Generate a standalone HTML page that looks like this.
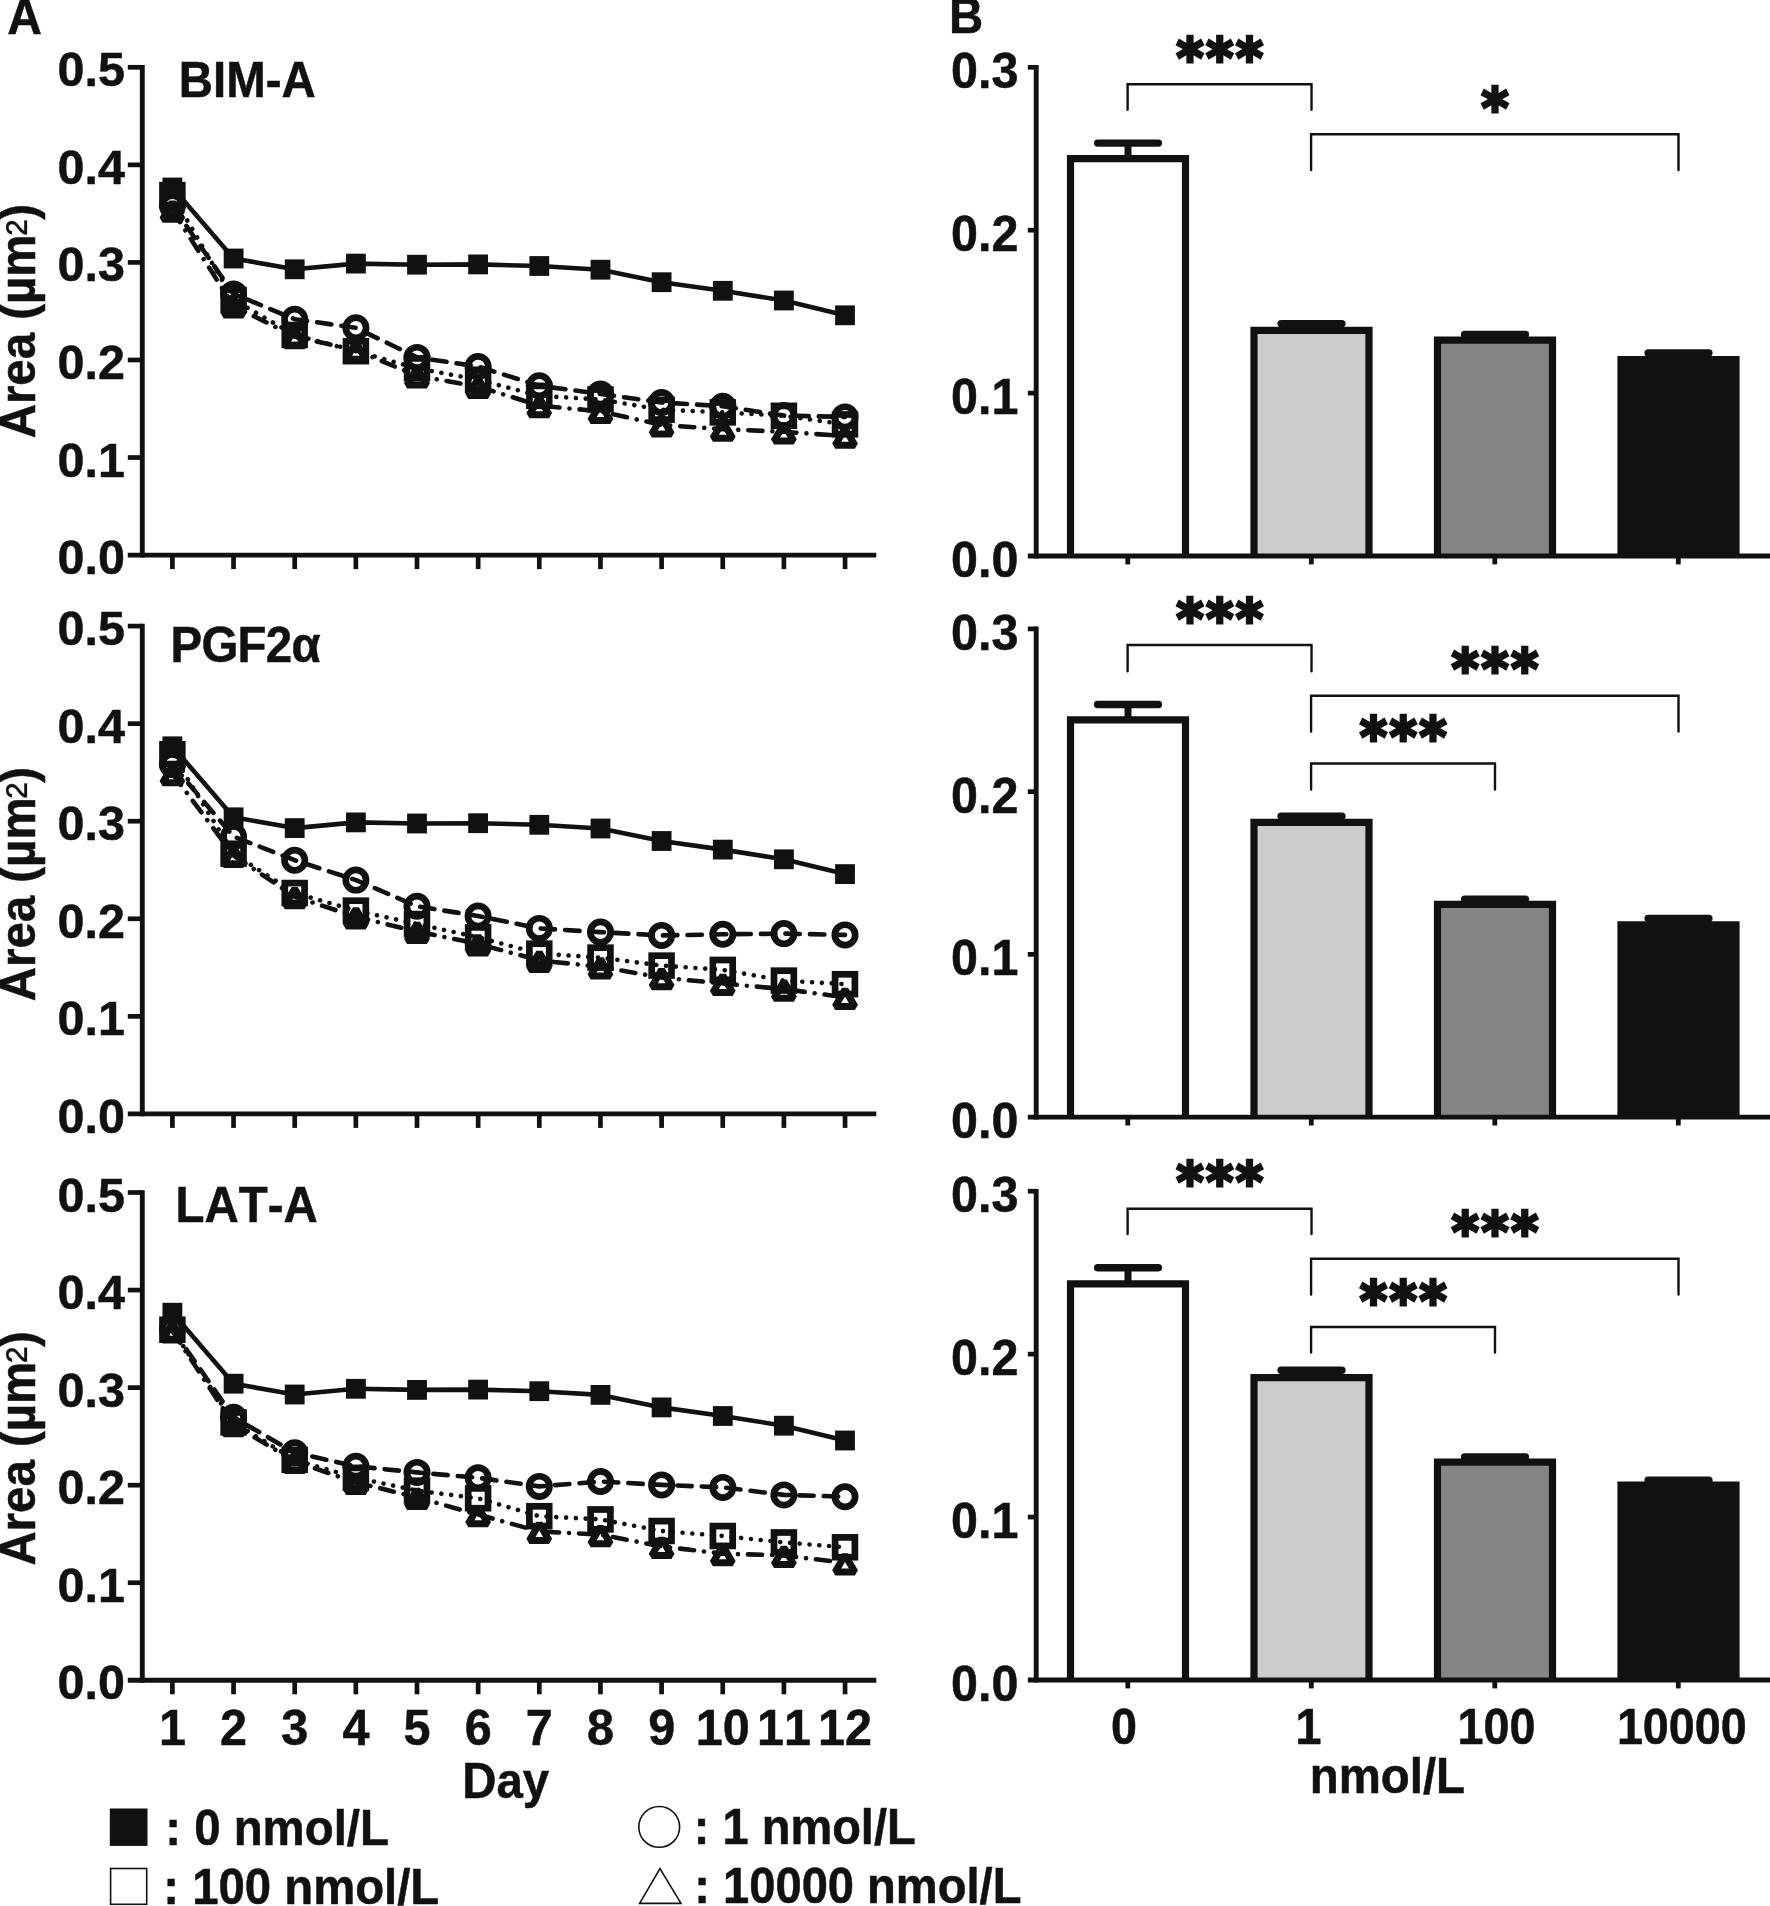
<!DOCTYPE html>
<html lang="en">
<head>
<meta charset="utf-8">
<title>Figure: Area vs Day (A) and dose response (B)</title>
<style>
html,body{margin:0;padding:0;background:#ffffff;}
body{width:1770px;height:1906px;overflow:hidden;font-family:'Liberation Sans', sans-serif;}
svg{display:block;}
text{font-kerning:none;}
</style>
</head>
<body>
<svg width="1770" height="1906" viewBox="0 0 1770 1906">
<rect x="0" y="0" width="1770" height="1906" fill="#ffffff"/>
<g id="panelA1" stroke="#111111" fill="#111111">
<line x1="142.30" y1="65.00" x2="142.30" y2="557.50" stroke-width="4.9" stroke-linecap="butt"/>
<line x1="127.80" y1="555.10" x2="876.30" y2="555.10" stroke-width="4.9" stroke-linecap="butt"/>
<line x1="127.80" y1="457.54" x2="142.30" y2="457.54" stroke-width="4.7" stroke-linecap="butt"/>
<line x1="127.80" y1="359.98" x2="142.30" y2="359.98" stroke-width="4.7" stroke-linecap="butt"/>
<line x1="127.80" y1="262.42" x2="142.30" y2="262.42" stroke-width="4.7" stroke-linecap="butt"/>
<line x1="127.80" y1="164.86" x2="142.30" y2="164.86" stroke-width="4.7" stroke-linecap="butt"/>
<line x1="127.80" y1="67.30" x2="142.30" y2="67.30" stroke-width="4.7" stroke-linecap="butt"/>
<line x1="172.40" y1="555.10" x2="172.40" y2="569.10" stroke-width="4.7" stroke-linecap="butt"/>
<line x1="233.55" y1="555.10" x2="233.55" y2="569.10" stroke-width="4.7" stroke-linecap="butt"/>
<line x1="294.70" y1="555.10" x2="294.70" y2="569.10" stroke-width="4.7" stroke-linecap="butt"/>
<line x1="355.85" y1="555.10" x2="355.85" y2="569.10" stroke-width="4.7" stroke-linecap="butt"/>
<line x1="417.00" y1="555.10" x2="417.00" y2="569.10" stroke-width="4.7" stroke-linecap="butt"/>
<line x1="478.15" y1="555.10" x2="478.15" y2="569.10" stroke-width="4.7" stroke-linecap="butt"/>
<line x1="539.30" y1="555.10" x2="539.30" y2="569.10" stroke-width="4.7" stroke-linecap="butt"/>
<line x1="600.45" y1="555.10" x2="600.45" y2="569.10" stroke-width="4.7" stroke-linecap="butt"/>
<line x1="661.60" y1="555.10" x2="661.60" y2="569.10" stroke-width="4.7" stroke-linecap="butt"/>
<line x1="722.75" y1="555.10" x2="722.75" y2="569.10" stroke-width="4.7" stroke-linecap="butt"/>
<line x1="783.90" y1="555.10" x2="783.90" y2="569.10" stroke-width="4.7" stroke-linecap="butt"/>
<line x1="845.05" y1="555.10" x2="845.05" y2="569.10" stroke-width="4.7" stroke-linecap="butt"/>
</g>
<g fill="#111111" stroke="#111111" stroke-width="0.5" font-family="'Liberation Sans', sans-serif">
<text transform="translate(124.90 574.10) scale(1 1.01)" font-size="48.5" font-weight="bold" text-anchor="end">0.0</text>
<text transform="translate(124.90 476.54) scale(1 1.01)" font-size="48.5" font-weight="bold" text-anchor="end">0.1</text>
<text transform="translate(124.90 378.98) scale(1 1.01)" font-size="48.5" font-weight="bold" text-anchor="end">0.2</text>
<text transform="translate(124.90 281.42) scale(1 1.01)" font-size="48.5" font-weight="bold" text-anchor="end">0.3</text>
<text transform="translate(124.90 183.86) scale(1 1.01)" font-size="48.5" font-weight="bold" text-anchor="end">0.4</text>
<text transform="translate(124.90 86.30) scale(1 1.01)" font-size="48.5" font-weight="bold" text-anchor="end">0.5</text>
<text transform="translate(178.80 96.50) scale(1 1.04)" font-size="47.4" font-weight="bold" text-anchor="start">BIM-A</text>
<text transform="translate(35.0 438.3) rotate(-90) scale(1 1.04)" font-size="47.4" font-weight="bold">Area (µm<tspan font-weight="normal" stroke-width="0.2" font-size="47.4" dx="-1" dy="5.8">²</tspan><tspan dy="-5.8">)</tspan></text>
</g>
<g id="dataA1" stroke="#111111" fill="none">
<polyline points="172.4,187.5 233.6,258.5 294.7,269.3 355.9,263.6 417.0,264.7 478.1,264.4 539.3,266.0 600.5,269.7 661.6,282.2 722.8,290.8 783.9,300.5 845.0,315.3" fill="none" stroke-width="4.6" stroke-linecap="round" stroke-linejoin="round"/>
<polyline points="172.4,205.8 233.6,293.9 294.7,319.2 355.9,327.8 417.0,357.4 478.1,366.5 539.3,385.8 600.5,393.9 661.6,402.5 722.8,406.2 783.9,415.6 845.0,416.9" fill="none" stroke-width="4.6" stroke-linecap="round" stroke-linejoin="round" stroke-dasharray="14.4 10.1"/>
<polyline points="172.4,195.1 233.6,299.9 294.7,335.0 355.9,351.2 417.0,368.3 478.1,379.7 539.3,395.8 600.5,399.5 661.6,409.7 722.8,412.4 783.9,415.8 845.0,424.4" fill="none" stroke-width="4.6" stroke-linecap="round" stroke-linejoin="round" stroke-dasharray="0.01 9.8"/>
<polyline points="172.4,210.1 233.6,306.0 294.7,336.6 355.9,350.2 417.0,375.8 478.1,386.5 539.3,405.6 600.5,411.4 661.6,424.9 722.8,429.2 783.9,431.8 845.0,436.1" fill="none" stroke-width="4.6" stroke-linecap="round" stroke-linejoin="round" stroke-dasharray="14.1 10 0.01 10"/>
<rect x="162.5" y="177.6" width="19.8" height="19.8" fill="#111111" stroke="none"/>
<rect x="223.7" y="248.6" width="19.8" height="19.8" fill="#111111" stroke="none"/>
<rect x="284.8" y="259.4" width="19.8" height="19.8" fill="#111111" stroke="none"/>
<rect x="346.0" y="253.7" width="19.8" height="19.8" fill="#111111" stroke="none"/>
<rect x="407.1" y="254.8" width="19.8" height="19.8" fill="#111111" stroke="none"/>
<rect x="468.2" y="254.5" width="19.8" height="19.8" fill="#111111" stroke="none"/>
<rect x="529.4" y="256.1" width="19.8" height="19.8" fill="#111111" stroke="none"/>
<rect x="590.6" y="259.8" width="19.8" height="19.8" fill="#111111" stroke="none"/>
<rect x="651.7" y="272.3" width="19.8" height="19.8" fill="#111111" stroke="none"/>
<rect x="712.9" y="280.9" width="19.8" height="19.8" fill="#111111" stroke="none"/>
<rect x="774.0" y="290.6" width="19.8" height="19.8" fill="#111111" stroke="none"/>
<rect x="835.1" y="305.4" width="19.8" height="19.8" fill="#111111" stroke="none"/>
<circle cx="172.4" cy="205.8" r="10.15" stroke-width="6.7"/>
<circle cx="233.6" cy="293.9" r="10.15" stroke-width="6.7"/>
<circle cx="294.7" cy="319.2" r="10.15" stroke-width="6.7"/>
<circle cx="355.9" cy="327.8" r="10.15" stroke-width="6.7"/>
<circle cx="417.0" cy="357.4" r="10.15" stroke-width="6.7"/>
<circle cx="478.1" cy="366.5" r="10.15" stroke-width="6.7"/>
<circle cx="539.3" cy="385.8" r="10.15" stroke-width="6.7"/>
<circle cx="600.5" cy="393.9" r="10.15" stroke-width="6.7"/>
<circle cx="661.6" cy="402.5" r="10.15" stroke-width="6.7"/>
<circle cx="722.8" cy="406.2" r="10.15" stroke-width="6.7"/>
<circle cx="783.9" cy="415.6" r="10.15" stroke-width="6.7"/>
<circle cx="845.0" cy="416.9" r="10.15" stroke-width="6.7"/>
<rect x="162.5" y="185.2" width="19.8" height="19.8" stroke-width="6.7"/>
<rect x="223.7" y="290.0" width="19.8" height="19.8" stroke-width="6.7"/>
<rect x="284.8" y="325.1" width="19.8" height="19.8" stroke-width="6.7"/>
<rect x="346.0" y="341.3" width="19.8" height="19.8" stroke-width="6.7"/>
<rect x="407.1" y="358.4" width="19.8" height="19.8" stroke-width="6.7"/>
<rect x="468.2" y="369.8" width="19.8" height="19.8" stroke-width="6.7"/>
<rect x="529.4" y="385.9" width="19.8" height="19.8" stroke-width="6.7"/>
<rect x="590.6" y="389.6" width="19.8" height="19.8" stroke-width="6.7"/>
<rect x="651.7" y="399.8" width="19.8" height="19.8" stroke-width="6.7"/>
<rect x="712.9" y="402.5" width="19.8" height="19.8" stroke-width="6.7"/>
<rect x="774.0" y="405.9" width="19.8" height="19.8" stroke-width="6.7"/>
<rect x="835.1" y="414.5" width="19.8" height="19.8" stroke-width="6.7"/>
<path d="M172.4 202.2 L182.2 219.2 L162.6 219.2 Z" stroke-width="7.0" stroke-linejoin="bevel"/>
<path d="M233.6 298.1 L243.4 315.1 L223.7 315.1 Z" stroke-width="7.0" stroke-linejoin="bevel"/>
<path d="M294.7 328.7 L304.6 345.7 L284.8 345.7 Z" stroke-width="7.0" stroke-linejoin="bevel"/>
<path d="M355.9 342.3 L365.7 359.3 L346.0 359.3 Z" stroke-width="7.0" stroke-linejoin="bevel"/>
<path d="M417.0 367.9 L426.9 384.9 L407.1 384.9 Z" stroke-width="7.0" stroke-linejoin="bevel"/>
<path d="M478.1 378.6 L488.0 395.6 L468.3 395.6 Z" stroke-width="7.0" stroke-linejoin="bevel"/>
<path d="M539.3 397.7 L549.1 414.7 L529.4 414.7 Z" stroke-width="7.0" stroke-linejoin="bevel"/>
<path d="M600.5 403.5 L610.3 420.5 L590.6 420.5 Z" stroke-width="7.0" stroke-linejoin="bevel"/>
<path d="M661.6 417.0 L671.5 434.0 L651.8 434.0 Z" stroke-width="7.0" stroke-linejoin="bevel"/>
<path d="M722.8 421.3 L732.6 438.3 L712.9 438.3 Z" stroke-width="7.0" stroke-linejoin="bevel"/>
<path d="M783.9 423.9 L793.8 440.9 L774.0 440.9 Z" stroke-width="7.0" stroke-linejoin="bevel"/>
<path d="M845.0 428.2 L854.9 445.2 L835.2 445.2 Z" stroke-width="7.0" stroke-linejoin="bevel"/>
</g>
<g id="panelA2" stroke="#111111" fill="#111111">
<line x1="142.30" y1="623.80" x2="142.30" y2="1116.30" stroke-width="4.9" stroke-linecap="butt"/>
<line x1="127.80" y1="1113.90" x2="876.30" y2="1113.90" stroke-width="4.9" stroke-linecap="butt"/>
<line x1="127.80" y1="1016.34" x2="142.30" y2="1016.34" stroke-width="4.7" stroke-linecap="butt"/>
<line x1="127.80" y1="918.78" x2="142.30" y2="918.78" stroke-width="4.7" stroke-linecap="butt"/>
<line x1="127.80" y1="821.22" x2="142.30" y2="821.22" stroke-width="4.7" stroke-linecap="butt"/>
<line x1="127.80" y1="723.66" x2="142.30" y2="723.66" stroke-width="4.7" stroke-linecap="butt"/>
<line x1="127.80" y1="626.10" x2="142.30" y2="626.10" stroke-width="4.7" stroke-linecap="butt"/>
<line x1="172.40" y1="1113.90" x2="172.40" y2="1127.90" stroke-width="4.7" stroke-linecap="butt"/>
<line x1="233.55" y1="1113.90" x2="233.55" y2="1127.90" stroke-width="4.7" stroke-linecap="butt"/>
<line x1="294.70" y1="1113.90" x2="294.70" y2="1127.90" stroke-width="4.7" stroke-linecap="butt"/>
<line x1="355.85" y1="1113.90" x2="355.85" y2="1127.90" stroke-width="4.7" stroke-linecap="butt"/>
<line x1="417.00" y1="1113.90" x2="417.00" y2="1127.90" stroke-width="4.7" stroke-linecap="butt"/>
<line x1="478.15" y1="1113.90" x2="478.15" y2="1127.90" stroke-width="4.7" stroke-linecap="butt"/>
<line x1="539.30" y1="1113.90" x2="539.30" y2="1127.90" stroke-width="4.7" stroke-linecap="butt"/>
<line x1="600.45" y1="1113.90" x2="600.45" y2="1127.90" stroke-width="4.7" stroke-linecap="butt"/>
<line x1="661.60" y1="1113.90" x2="661.60" y2="1127.90" stroke-width="4.7" stroke-linecap="butt"/>
<line x1="722.75" y1="1113.90" x2="722.75" y2="1127.90" stroke-width="4.7" stroke-linecap="butt"/>
<line x1="783.90" y1="1113.90" x2="783.90" y2="1127.90" stroke-width="4.7" stroke-linecap="butt"/>
<line x1="845.05" y1="1113.90" x2="845.05" y2="1127.90" stroke-width="4.7" stroke-linecap="butt"/>
</g>
<g fill="#111111" stroke="#111111" stroke-width="0.5" font-family="'Liberation Sans', sans-serif">
<text transform="translate(124.90 1132.90) scale(1 1.01)" font-size="48.5" font-weight="bold" text-anchor="end">0.0</text>
<text transform="translate(124.90 1035.34) scale(1 1.01)" font-size="48.5" font-weight="bold" text-anchor="end">0.1</text>
<text transform="translate(124.90 937.78) scale(1 1.01)" font-size="48.5" font-weight="bold" text-anchor="end">0.2</text>
<text transform="translate(124.90 840.22) scale(1 1.01)" font-size="48.5" font-weight="bold" text-anchor="end">0.3</text>
<text transform="translate(124.90 742.66) scale(1 1.01)" font-size="48.5" font-weight="bold" text-anchor="end">0.4</text>
<text transform="translate(124.90 645.10) scale(1 1.01)" font-size="48.5" font-weight="bold" text-anchor="end">0.5</text>
<text transform="translate(170.50 662.10) scale(1 1.04)" font-size="47.4" font-weight="bold" text-anchor="start" letter-spacing="-0.7">PGF2α</text>
<text transform="translate(35.0 1001.2) rotate(-90) scale(1 1.04)" font-size="47.4" font-weight="bold">Area (µm<tspan font-weight="normal" stroke-width="0.2" font-size="47.4" dx="-1" dy="5.8">²</tspan><tspan dy="-5.8">)</tspan></text>
</g>
<g id="dataA2" stroke="#111111" fill="none">
<polyline points="172.4,746.3 233.6,817.3 294.7,828.1 355.9,822.4 417.0,823.5 478.1,823.2 539.3,824.8 600.5,828.5 661.6,841.0 722.8,849.6 783.9,859.3 845.0,874.1" fill="none" stroke-width="4.6" stroke-linecap="round" stroke-linejoin="round"/>
<polyline points="172.4,764.6 233.6,836.6 294.7,860.2 355.9,880.1 417.0,906.3 478.1,916.0 539.3,928.4 600.5,932.1 661.6,935.4 722.8,934.3 783.9,933.6 845.0,934.9" fill="none" stroke-width="4.6" stroke-linecap="round" stroke-linejoin="round" stroke-dasharray="14.4 10.1"/>
<polyline points="172.4,754.2 233.6,853.7 294.7,893.0 355.9,910.6 417.0,924.0 478.1,937.3 539.3,953.6 600.5,957.6 661.6,965.6 722.8,969.9 783.9,980.6 845.0,984.2" fill="none" stroke-width="4.6" stroke-linecap="round" stroke-linejoin="round" stroke-dasharray="0.01 9.8"/>
<polyline points="172.4,773.6 233.6,855.4 294.7,896.6 355.9,916.8 417.0,931.5 478.1,943.9 539.3,960.4 600.5,966.8 661.6,977.6 722.8,983.5 783.9,989.1 845.0,997.3" fill="none" stroke-width="4.6" stroke-linecap="round" stroke-linejoin="round" stroke-dasharray="14.1 10 0.01 10"/>
<rect x="162.5" y="736.4" width="19.8" height="19.8" fill="#111111" stroke="none"/>
<rect x="223.7" y="807.4" width="19.8" height="19.8" fill="#111111" stroke="none"/>
<rect x="284.8" y="818.2" width="19.8" height="19.8" fill="#111111" stroke="none"/>
<rect x="346.0" y="812.5" width="19.8" height="19.8" fill="#111111" stroke="none"/>
<rect x="407.1" y="813.6" width="19.8" height="19.8" fill="#111111" stroke="none"/>
<rect x="468.2" y="813.3" width="19.8" height="19.8" fill="#111111" stroke="none"/>
<rect x="529.4" y="814.9" width="19.8" height="19.8" fill="#111111" stroke="none"/>
<rect x="590.6" y="818.6" width="19.8" height="19.8" fill="#111111" stroke="none"/>
<rect x="651.7" y="831.1" width="19.8" height="19.8" fill="#111111" stroke="none"/>
<rect x="712.9" y="839.7" width="19.8" height="19.8" fill="#111111" stroke="none"/>
<rect x="774.0" y="849.4" width="19.8" height="19.8" fill="#111111" stroke="none"/>
<rect x="835.1" y="864.2" width="19.8" height="19.8" fill="#111111" stroke="none"/>
<circle cx="172.4" cy="764.6" r="10.15" stroke-width="6.7"/>
<circle cx="233.6" cy="836.6" r="10.15" stroke-width="6.7"/>
<circle cx="294.7" cy="860.2" r="10.15" stroke-width="6.7"/>
<circle cx="355.9" cy="880.1" r="10.15" stroke-width="6.7"/>
<circle cx="417.0" cy="906.3" r="10.15" stroke-width="6.7"/>
<circle cx="478.1" cy="916.0" r="10.15" stroke-width="6.7"/>
<circle cx="539.3" cy="928.4" r="10.15" stroke-width="6.7"/>
<circle cx="600.5" cy="932.1" r="10.15" stroke-width="6.7"/>
<circle cx="661.6" cy="935.4" r="10.15" stroke-width="6.7"/>
<circle cx="722.8" cy="934.3" r="10.15" stroke-width="6.7"/>
<circle cx="783.9" cy="933.6" r="10.15" stroke-width="6.7"/>
<circle cx="845.0" cy="934.9" r="10.15" stroke-width="6.7"/>
<rect x="162.5" y="744.3" width="19.8" height="19.8" stroke-width="6.7"/>
<rect x="223.7" y="843.8" width="19.8" height="19.8" stroke-width="6.7"/>
<rect x="284.8" y="883.1" width="19.8" height="19.8" stroke-width="6.7"/>
<rect x="346.0" y="900.7" width="19.8" height="19.8" stroke-width="6.7"/>
<rect x="407.1" y="914.1" width="19.8" height="19.8" stroke-width="6.7"/>
<rect x="468.2" y="927.4" width="19.8" height="19.8" stroke-width="6.7"/>
<rect x="529.4" y="943.7" width="19.8" height="19.8" stroke-width="6.7"/>
<rect x="590.6" y="947.7" width="19.8" height="19.8" stroke-width="6.7"/>
<rect x="651.7" y="955.7" width="19.8" height="19.8" stroke-width="6.7"/>
<rect x="712.9" y="960.0" width="19.8" height="19.8" stroke-width="6.7"/>
<rect x="774.0" y="970.7" width="19.8" height="19.8" stroke-width="6.7"/>
<rect x="835.1" y="974.3" width="19.8" height="19.8" stroke-width="6.7"/>
<path d="M172.4 765.7 L182.2 782.7 L162.6 782.7 Z" stroke-width="7.0" stroke-linejoin="bevel"/>
<path d="M233.6 847.5 L243.4 864.5 L223.7 864.5 Z" stroke-width="7.0" stroke-linejoin="bevel"/>
<path d="M294.7 888.7 L304.6 905.7 L284.8 905.7 Z" stroke-width="7.0" stroke-linejoin="bevel"/>
<path d="M355.9 908.9 L365.7 925.9 L346.0 925.9 Z" stroke-width="7.0" stroke-linejoin="bevel"/>
<path d="M417.0 923.6 L426.9 940.6 L407.1 940.6 Z" stroke-width="7.0" stroke-linejoin="bevel"/>
<path d="M478.1 936.0 L488.0 953.0 L468.3 953.0 Z" stroke-width="7.0" stroke-linejoin="bevel"/>
<path d="M539.3 952.5 L549.1 969.5 L529.4 969.5 Z" stroke-width="7.0" stroke-linejoin="bevel"/>
<path d="M600.5 958.9 L610.3 975.9 L590.6 975.9 Z" stroke-width="7.0" stroke-linejoin="bevel"/>
<path d="M661.6 969.7 L671.5 986.7 L651.8 986.7 Z" stroke-width="7.0" stroke-linejoin="bevel"/>
<path d="M722.8 975.6 L732.6 992.6 L712.9 992.6 Z" stroke-width="7.0" stroke-linejoin="bevel"/>
<path d="M783.9 981.2 L793.8 998.2 L774.0 998.2 Z" stroke-width="7.0" stroke-linejoin="bevel"/>
<path d="M845.0 989.4 L854.9 1006.4 L835.2 1006.4 Z" stroke-width="7.0" stroke-linejoin="bevel"/>
</g>
<g id="panelA3" stroke="#111111" fill="#111111">
<line x1="142.30" y1="1190.20" x2="142.30" y2="1682.70" stroke-width="4.9" stroke-linecap="butt"/>
<line x1="127.80" y1="1680.30" x2="876.30" y2="1680.30" stroke-width="4.9" stroke-linecap="butt"/>
<line x1="127.80" y1="1582.74" x2="142.30" y2="1582.74" stroke-width="4.7" stroke-linecap="butt"/>
<line x1="127.80" y1="1485.18" x2="142.30" y2="1485.18" stroke-width="4.7" stroke-linecap="butt"/>
<line x1="127.80" y1="1387.62" x2="142.30" y2="1387.62" stroke-width="4.7" stroke-linecap="butt"/>
<line x1="127.80" y1="1290.06" x2="142.30" y2="1290.06" stroke-width="4.7" stroke-linecap="butt"/>
<line x1="127.80" y1="1192.50" x2="142.30" y2="1192.50" stroke-width="4.7" stroke-linecap="butt"/>
<line x1="172.40" y1="1680.30" x2="172.40" y2="1694.30" stroke-width="4.7" stroke-linecap="butt"/>
<line x1="233.55" y1="1680.30" x2="233.55" y2="1694.30" stroke-width="4.7" stroke-linecap="butt"/>
<line x1="294.70" y1="1680.30" x2="294.70" y2="1694.30" stroke-width="4.7" stroke-linecap="butt"/>
<line x1="355.85" y1="1680.30" x2="355.85" y2="1694.30" stroke-width="4.7" stroke-linecap="butt"/>
<line x1="417.00" y1="1680.30" x2="417.00" y2="1694.30" stroke-width="4.7" stroke-linecap="butt"/>
<line x1="478.15" y1="1680.30" x2="478.15" y2="1694.30" stroke-width="4.7" stroke-linecap="butt"/>
<line x1="539.30" y1="1680.30" x2="539.30" y2="1694.30" stroke-width="4.7" stroke-linecap="butt"/>
<line x1="600.45" y1="1680.30" x2="600.45" y2="1694.30" stroke-width="4.7" stroke-linecap="butt"/>
<line x1="661.60" y1="1680.30" x2="661.60" y2="1694.30" stroke-width="4.7" stroke-linecap="butt"/>
<line x1="722.75" y1="1680.30" x2="722.75" y2="1694.30" stroke-width="4.7" stroke-linecap="butt"/>
<line x1="783.90" y1="1680.30" x2="783.90" y2="1694.30" stroke-width="4.7" stroke-linecap="butt"/>
<line x1="845.05" y1="1680.30" x2="845.05" y2="1694.30" stroke-width="4.7" stroke-linecap="butt"/>
</g>
<g fill="#111111" stroke="#111111" stroke-width="0.5" font-family="'Liberation Sans', sans-serif">
<text transform="translate(124.90 1699.30) scale(1 1.01)" font-size="48.5" font-weight="bold" text-anchor="end">0.0</text>
<text transform="translate(124.90 1601.74) scale(1 1.01)" font-size="48.5" font-weight="bold" text-anchor="end">0.1</text>
<text transform="translate(124.90 1504.18) scale(1 1.01)" font-size="48.5" font-weight="bold" text-anchor="end">0.2</text>
<text transform="translate(124.90 1406.62) scale(1 1.01)" font-size="48.5" font-weight="bold" text-anchor="end">0.3</text>
<text transform="translate(124.90 1309.06) scale(1 1.01)" font-size="48.5" font-weight="bold" text-anchor="end">0.4</text>
<text transform="translate(124.90 1211.50) scale(1 1.01)" font-size="48.5" font-weight="bold" text-anchor="end">0.5</text>
<text transform="translate(175.60 1221.90) scale(1 1.04)" font-size="47.4" font-weight="bold" text-anchor="start">LAT-A</text>
<text transform="translate(35.0 1565.6) rotate(-90) scale(1 1.04)" font-size="47.4" font-weight="bold">Area (µm<tspan font-weight="normal" stroke-width="0.2" font-size="47.4" dx="-1" dy="5.8">²</tspan><tspan dy="-5.8">)</tspan></text>
</g>
<g id="dataA3" stroke="#111111" fill="none">
<polyline points="172.4,1312.7 233.6,1383.7 294.7,1394.5 355.9,1388.8 417.0,1389.9 478.1,1389.6 539.3,1391.2 600.5,1394.9 661.6,1407.4 722.8,1416.0 783.9,1425.7 845.0,1440.5" fill="none" stroke-width="4.6" stroke-linecap="round" stroke-linejoin="round"/>
<polyline points="172.4,1329.1 233.6,1417.3 294.7,1452.7 355.9,1466.3 417.0,1472.4 478.1,1477.8 539.3,1486.4 600.5,1481.5 661.6,1484.9 722.8,1487.4 783.9,1494.9 845.0,1496.7" fill="none" stroke-width="4.6" stroke-linecap="round" stroke-linejoin="round" stroke-dasharray="14.4 10.1"/>
<polyline points="172.4,1329.7 233.6,1422.4 294.7,1459.8 355.9,1477.8 417.0,1490.6 478.1,1498.3 539.3,1516.2 600.5,1519.4 661.6,1531.0 722.8,1536.0 783.9,1542.4 845.0,1547.3" fill="none" stroke-width="4.6" stroke-linecap="round" stroke-linejoin="round" stroke-dasharray="0.01 9.8"/>
<polyline points="172.4,1331.0 233.6,1424.7 294.7,1461.5 355.9,1482.4 417.0,1497.4 478.1,1514.6 539.3,1531.4 600.5,1534.6 661.6,1546.4 722.8,1553.7 783.9,1555.4 845.0,1562.9" fill="none" stroke-width="4.6" stroke-linecap="round" stroke-linejoin="round" stroke-dasharray="14.1 10 0.01 10"/>
<rect x="162.5" y="1302.8" width="19.8" height="19.8" fill="#111111" stroke="none"/>
<rect x="223.7" y="1373.8" width="19.8" height="19.8" fill="#111111" stroke="none"/>
<rect x="284.8" y="1384.6" width="19.8" height="19.8" fill="#111111" stroke="none"/>
<rect x="346.0" y="1378.9" width="19.8" height="19.8" fill="#111111" stroke="none"/>
<rect x="407.1" y="1380.0" width="19.8" height="19.8" fill="#111111" stroke="none"/>
<rect x="468.2" y="1379.7" width="19.8" height="19.8" fill="#111111" stroke="none"/>
<rect x="529.4" y="1381.3" width="19.8" height="19.8" fill="#111111" stroke="none"/>
<rect x="590.6" y="1385.0" width="19.8" height="19.8" fill="#111111" stroke="none"/>
<rect x="651.7" y="1397.5" width="19.8" height="19.8" fill="#111111" stroke="none"/>
<rect x="712.9" y="1406.1" width="19.8" height="19.8" fill="#111111" stroke="none"/>
<rect x="774.0" y="1415.8" width="19.8" height="19.8" fill="#111111" stroke="none"/>
<rect x="835.1" y="1430.6" width="19.8" height="19.8" fill="#111111" stroke="none"/>
<circle cx="172.4" cy="1329.1" r="10.15" stroke-width="6.7"/>
<circle cx="233.6" cy="1417.3" r="10.15" stroke-width="6.7"/>
<circle cx="294.7" cy="1452.7" r="10.15" stroke-width="6.7"/>
<circle cx="355.9" cy="1466.3" r="10.15" stroke-width="6.7"/>
<circle cx="417.0" cy="1472.4" r="10.15" stroke-width="6.7"/>
<circle cx="478.1" cy="1477.8" r="10.15" stroke-width="6.7"/>
<circle cx="539.3" cy="1486.4" r="10.15" stroke-width="6.7"/>
<circle cx="600.5" cy="1481.5" r="10.15" stroke-width="6.7"/>
<circle cx="661.6" cy="1484.9" r="10.15" stroke-width="6.7"/>
<circle cx="722.8" cy="1487.4" r="10.15" stroke-width="6.7"/>
<circle cx="783.9" cy="1494.9" r="10.15" stroke-width="6.7"/>
<circle cx="845.0" cy="1496.7" r="10.15" stroke-width="6.7"/>
<rect x="162.5" y="1319.8" width="19.8" height="19.8" stroke-width="6.7"/>
<rect x="223.7" y="1412.5" width="19.8" height="19.8" stroke-width="6.7"/>
<rect x="284.8" y="1449.9" width="19.8" height="19.8" stroke-width="6.7"/>
<rect x="346.0" y="1467.9" width="19.8" height="19.8" stroke-width="6.7"/>
<rect x="407.1" y="1480.7" width="19.8" height="19.8" stroke-width="6.7"/>
<rect x="468.2" y="1488.4" width="19.8" height="19.8" stroke-width="6.7"/>
<rect x="529.4" y="1506.3" width="19.8" height="19.8" stroke-width="6.7"/>
<rect x="590.6" y="1509.5" width="19.8" height="19.8" stroke-width="6.7"/>
<rect x="651.7" y="1521.1" width="19.8" height="19.8" stroke-width="6.7"/>
<rect x="712.9" y="1526.1" width="19.8" height="19.8" stroke-width="6.7"/>
<rect x="774.0" y="1532.5" width="19.8" height="19.8" stroke-width="6.7"/>
<rect x="835.1" y="1537.4" width="19.8" height="19.8" stroke-width="6.7"/>
<path d="M172.4 1323.1 L182.2 1340.1 L162.6 1340.1 Z" stroke-width="7.0" stroke-linejoin="bevel"/>
<path d="M233.6 1416.8 L243.4 1433.8 L223.7 1433.8 Z" stroke-width="7.0" stroke-linejoin="bevel"/>
<path d="M294.7 1453.6 L304.6 1470.6 L284.8 1470.6 Z" stroke-width="7.0" stroke-linejoin="bevel"/>
<path d="M355.9 1474.5 L365.7 1491.5 L346.0 1491.5 Z" stroke-width="7.0" stroke-linejoin="bevel"/>
<path d="M417.0 1489.5 L426.9 1506.5 L407.1 1506.5 Z" stroke-width="7.0" stroke-linejoin="bevel"/>
<path d="M478.1 1506.7 L488.0 1523.7 L468.3 1523.7 Z" stroke-width="7.0" stroke-linejoin="bevel"/>
<path d="M539.3 1523.5 L549.1 1540.5 L529.4 1540.5 Z" stroke-width="7.0" stroke-linejoin="bevel"/>
<path d="M600.5 1526.7 L610.3 1543.7 L590.6 1543.7 Z" stroke-width="7.0" stroke-linejoin="bevel"/>
<path d="M661.6 1538.5 L671.5 1555.5 L651.8 1555.5 Z" stroke-width="7.0" stroke-linejoin="bevel"/>
<path d="M722.8 1545.8 L732.6 1562.8 L712.9 1562.8 Z" stroke-width="7.0" stroke-linejoin="bevel"/>
<path d="M783.9 1547.5 L793.8 1564.5 L774.0 1564.5 Z" stroke-width="7.0" stroke-linejoin="bevel"/>
<path d="M845.0 1555.0 L854.9 1572.0 L835.2 1572.0 Z" stroke-width="7.0" stroke-linejoin="bevel"/>
</g>
<g fill="#111111" stroke="#111111" stroke-width="0.5" font-family="'Liberation Sans', sans-serif">
<text transform="translate(172.40 1744.90) scale(1 1.02)" font-size="48.5" font-weight="bold" text-anchor="middle">1</text>
<text transform="translate(233.55 1744.90) scale(1 1.02)" font-size="48.5" font-weight="bold" text-anchor="middle">2</text>
<text transform="translate(294.70 1744.90) scale(1 1.02)" font-size="48.5" font-weight="bold" text-anchor="middle">3</text>
<text transform="translate(355.85 1744.90) scale(1 1.02)" font-size="48.5" font-weight="bold" text-anchor="middle">4</text>
<text transform="translate(417.00 1744.90) scale(1 1.02)" font-size="48.5" font-weight="bold" text-anchor="middle">5</text>
<text transform="translate(478.15 1744.90) scale(1 1.02)" font-size="48.5" font-weight="bold" text-anchor="middle">6</text>
<text transform="translate(539.30 1744.90) scale(1 1.02)" font-size="48.5" font-weight="bold" text-anchor="middle">7</text>
<text transform="translate(600.45 1744.90) scale(1 1.02)" font-size="48.5" font-weight="bold" text-anchor="middle">8</text>
<text transform="translate(661.60 1744.90) scale(1 1.02)" font-size="48.5" font-weight="bold" text-anchor="middle">9</text>
<text transform="translate(722.75 1744.90) scale(1 1.02)" font-size="48.5" font-weight="bold" text-anchor="middle">10</text>
<text transform="translate(783.90 1744.90) scale(1 1.02)" font-size="48.5" font-weight="bold" text-anchor="middle">11</text>
<text transform="translate(845.05 1744.90) scale(1 1.02)" font-size="48.5" font-weight="bold" text-anchor="middle">12</text>
<text transform="translate(462.20 1797.90) scale(1 1.04)" font-size="47.4" font-weight="bold" text-anchor="start">Day</text>
<text transform="translate(7.30 33.50) scale(1 1.04)" font-size="48" font-weight="bold" text-anchor="start">A</text>
<text transform="translate(948.90 33.20) scale(1 1.04)" font-size="47.4" font-weight="bold" text-anchor="start">B</text>
</g>
<g id="legend" stroke="#111111" fill="none" stroke-width="1.6">
<rect x="109.8" y="1808.5" width="37.7" height="37.4" fill="#111111" stroke="none"/>
<rect x="110.6" y="1868.5" width="36.1" height="35.8"/>
<circle cx="659.2" cy="1826.9" r="20.4"/>
<path d="M660 1868.6 L681.0 1903.4 L639.6 1903.4 Z"/>
</g>
<g fill="#111111" stroke="#111111" stroke-width="0.5" font-family="'Liberation Sans', sans-serif">
<text transform="translate(165.20 1844.60) scale(1 1.04)" font-size="47.4" font-weight="bold" text-anchor="start">: 0 nmol/L</text>
<text transform="translate(163.30 1903.50) scale(1 1.04)" font-size="47.3" font-weight="bold" text-anchor="start">: 100 nmol/L</text>
<text transform="translate(693.80 1844.20) scale(1 1.05)" font-size="47.0" font-weight="bold" text-anchor="start">: 1 nmol/L</text>
<text transform="translate(694.30 1903.30) scale(1 1.05)" font-size="47.1" font-weight="bold" text-anchor="start">: 10000 nmol/L</text>
</g>
<g id="panelB1" stroke="#111111" fill="none">
<line x1="1128.00" y1="143.10" x2="1128.00" y2="158.70" stroke-width="7.0" stroke-linecap="butt"/>
<line x1="1097.60" y1="143.10" x2="1158.40" y2="143.10" stroke-width="7.4" stroke-linecap="round"/>
<path d="M1070.5 556.0 V158.7 H1185.5 V556.0" fill="#ffffff" stroke-width="7.2" stroke-linejoin="miter"/>
<line x1="1311.50" y1="323.60" x2="1311.50" y2="330.40" stroke-width="7.0" stroke-linecap="butt"/>
<line x1="1281.10" y1="323.60" x2="1341.90" y2="323.60" stroke-width="7.4" stroke-linecap="round"/>
<path d="M1254.0 556.0 V330.4 H1369.0 V556.0" fill="#cccccc" stroke-width="7.2" stroke-linejoin="miter"/>
<line x1="1495.00" y1="334.50" x2="1495.00" y2="340.20" stroke-width="7.0" stroke-linecap="butt"/>
<line x1="1464.60" y1="334.50" x2="1525.40" y2="334.50" stroke-width="7.4" stroke-linecap="round"/>
<path d="M1437.5 556.0 V340.2 H1552.5 V556.0" fill="#858585" stroke-width="7.2" stroke-linejoin="miter"/>
<line x1="1678.50" y1="353.00" x2="1678.50" y2="359.60" stroke-width="7.0" stroke-linecap="butt"/>
<line x1="1648.10" y1="353.00" x2="1708.90" y2="353.00" stroke-width="7.4" stroke-linecap="round"/>
<path d="M1621.0 556.0 V359.6 H1736.0 V556.0" fill="#111111" stroke-width="7.2" stroke-linejoin="miter"/>
<line x1="1036.20" y1="65.00" x2="1036.20" y2="558.40" stroke-width="4.9" stroke-linecap="butt"/>
<line x1="1027.80" y1="556.00" x2="1770.00" y2="556.00" stroke-width="4.9" stroke-linecap="butt"/>
<line x1="1027.80" y1="393.10" x2="1036.20" y2="393.10" stroke-width="4.7" stroke-linecap="butt"/>
<line x1="1027.80" y1="230.20" x2="1036.20" y2="230.20" stroke-width="4.7" stroke-linecap="butt"/>
<line x1="1027.80" y1="67.30" x2="1036.20" y2="67.30" stroke-width="4.7" stroke-linecap="butt"/>
<line x1="1127.80" y1="556.00" x2="1127.80" y2="564.40" stroke-width="4.8" stroke-linecap="butt"/>
<line x1="1311.30" y1="556.00" x2="1311.30" y2="564.40" stroke-width="4.8" stroke-linecap="butt"/>
<line x1="1494.80" y1="556.00" x2="1494.80" y2="564.40" stroke-width="4.8" stroke-linecap="butt"/>
<line x1="1678.30" y1="556.00" x2="1678.30" y2="564.40" stroke-width="4.8" stroke-linecap="butt"/>
<path d="M1127.6 109.8 V84.2 H1311.5 V109.8" stroke-width="2.4" stroke-linecap="round"/>
<path d="M1311.1 170.1 V134.3 H1678.5 V170.1" stroke-width="2.4" stroke-linecap="round"/>
</g>
<g fill="#111111" stroke="#111111" stroke-width="0.5" font-family="'Liberation Sans', sans-serif">
<text transform="translate(1018.40 577.00) scale(1 1.02)" font-size="48.5" font-weight="bold" text-anchor="end">0.0</text>
<text transform="translate(1018.40 414.10) scale(1 1.02)" font-size="48.5" font-weight="bold" text-anchor="end">0.1</text>
<text transform="translate(1018.40 251.20) scale(1 1.02)" font-size="48.5" font-weight="bold" text-anchor="end">0.2</text>
<text transform="translate(1018.40 88.30) scale(1 1.02)" font-size="48.5" font-weight="bold" text-anchor="end">0.3</text>
<text transform="translate(1221.15 76.90) scale(1 1.065)" font-size="51.6" font-weight="bold" text-anchor="middle" font-family="'DejaVu Sans', 'Liberation Sans', sans-serif" stroke="#111111" stroke-width="3" stroke-linejoin="miter" letter-spacing="2.8">***</text>
<text transform="translate(1495.00 127.00) scale(1 1.065)" font-size="51.6" font-weight="bold" text-anchor="middle" font-family="'DejaVu Sans', 'Liberation Sans', sans-serif" stroke="#111111" stroke-width="3" stroke-linejoin="miter" letter-spacing="0">*</text>
</g>
<g id="panelB2" stroke="#111111" fill="none">
<line x1="1128.00" y1="704.50" x2="1128.00" y2="719.90" stroke-width="7.0" stroke-linecap="butt"/>
<line x1="1097.60" y1="704.50" x2="1158.40" y2="704.50" stroke-width="7.4" stroke-linecap="round"/>
<path d="M1070.5 1117.1 V719.9 H1185.5 V1117.1" fill="#ffffff" stroke-width="7.2" stroke-linejoin="miter"/>
<line x1="1311.50" y1="816.20" x2="1311.50" y2="822.30" stroke-width="7.0" stroke-linecap="butt"/>
<line x1="1281.10" y1="816.20" x2="1341.90" y2="816.20" stroke-width="7.4" stroke-linecap="round"/>
<path d="M1254.0 1117.1 V822.3 H1369.0 V1117.1" fill="#cccccc" stroke-width="7.2" stroke-linejoin="miter"/>
<line x1="1495.00" y1="899.10" x2="1495.00" y2="904.40" stroke-width="7.0" stroke-linecap="butt"/>
<line x1="1464.60" y1="899.10" x2="1525.40" y2="899.10" stroke-width="7.4" stroke-linecap="round"/>
<path d="M1437.5 1117.1 V904.4 H1552.5 V1117.1" fill="#858585" stroke-width="7.2" stroke-linejoin="miter"/>
<line x1="1678.50" y1="918.40" x2="1678.50" y2="924.80" stroke-width="7.0" stroke-linecap="butt"/>
<line x1="1648.10" y1="918.40" x2="1708.90" y2="918.40" stroke-width="7.4" stroke-linecap="round"/>
<path d="M1621.0 1117.1 V924.8 H1736.0 V1117.1" fill="#111111" stroke-width="7.2" stroke-linejoin="miter"/>
<line x1="1036.20" y1="626.60" x2="1036.20" y2="1119.50" stroke-width="4.9" stroke-linecap="butt"/>
<line x1="1027.80" y1="1117.10" x2="1770.00" y2="1117.10" stroke-width="4.9" stroke-linecap="butt"/>
<line x1="1027.80" y1="954.37" x2="1036.20" y2="954.37" stroke-width="4.7" stroke-linecap="butt"/>
<line x1="1027.80" y1="791.63" x2="1036.20" y2="791.63" stroke-width="4.7" stroke-linecap="butt"/>
<line x1="1027.80" y1="628.90" x2="1036.20" y2="628.90" stroke-width="4.7" stroke-linecap="butt"/>
<line x1="1127.80" y1="1117.10" x2="1127.80" y2="1125.50" stroke-width="4.8" stroke-linecap="butt"/>
<line x1="1311.30" y1="1117.10" x2="1311.30" y2="1125.50" stroke-width="4.8" stroke-linecap="butt"/>
<line x1="1494.80" y1="1117.10" x2="1494.80" y2="1125.50" stroke-width="4.8" stroke-linecap="butt"/>
<line x1="1678.30" y1="1117.10" x2="1678.30" y2="1125.50" stroke-width="4.8" stroke-linecap="butt"/>
<path d="M1127.6 671.2 V645.0 H1311.5 V671.2" stroke-width="2.4" stroke-linecap="round"/>
<path d="M1311.1 731.5 V695.7 H1678.5 V731.5" stroke-width="2.4" stroke-linecap="round"/>
<path d="M1311.1 789.5 V763.5 H1495.0 V789.5" stroke-width="2.4" stroke-linecap="round"/>
</g>
<g fill="#111111" stroke="#111111" stroke-width="0.5" font-family="'Liberation Sans', sans-serif">
<text transform="translate(1018.40 1138.10) scale(1 1.02)" font-size="48.5" font-weight="bold" text-anchor="end">0.0</text>
<text transform="translate(1018.40 975.37) scale(1 1.02)" font-size="48.5" font-weight="bold" text-anchor="end">0.1</text>
<text transform="translate(1018.40 812.63) scale(1 1.02)" font-size="48.5" font-weight="bold" text-anchor="end">0.2</text>
<text transform="translate(1018.40 649.90) scale(1 1.02)" font-size="48.5" font-weight="bold" text-anchor="end">0.3</text>
<text transform="translate(1221.15 637.70) scale(1 1.065)" font-size="51.6" font-weight="bold" text-anchor="middle" font-family="'DejaVu Sans', 'Liberation Sans', sans-serif" stroke="#111111" stroke-width="3" stroke-linejoin="miter" letter-spacing="2.8">***</text>
<text transform="translate(1496.40 688.40) scale(1 1.065)" font-size="51.6" font-weight="bold" text-anchor="middle" font-family="'DejaVu Sans', 'Liberation Sans', sans-serif" stroke="#111111" stroke-width="3" stroke-linejoin="miter" letter-spacing="2.8">***</text>
<text transform="translate(1404.65 756.20) scale(1 1.065)" font-size="51.6" font-weight="bold" text-anchor="middle" font-family="'DejaVu Sans', 'Liberation Sans', sans-serif" stroke="#111111" stroke-width="3" stroke-linejoin="miter" letter-spacing="2.8">***</text>
</g>
<g id="panelB3" stroke="#111111" fill="none">
<line x1="1128.00" y1="1267.70" x2="1128.00" y2="1283.80" stroke-width="7.0" stroke-linecap="butt"/>
<line x1="1097.60" y1="1267.70" x2="1158.40" y2="1267.70" stroke-width="7.4" stroke-linecap="round"/>
<path d="M1070.5 1680.0 V1283.8 H1185.5 V1680.0" fill="#ffffff" stroke-width="7.2" stroke-linejoin="miter"/>
<line x1="1311.50" y1="1370.20" x2="1311.50" y2="1377.60" stroke-width="7.0" stroke-linecap="butt"/>
<line x1="1281.10" y1="1370.20" x2="1341.90" y2="1370.20" stroke-width="7.4" stroke-linecap="round"/>
<path d="M1254.0 1680.0 V1377.6 H1369.0 V1680.0" fill="#cccccc" stroke-width="7.2" stroke-linejoin="miter"/>
<line x1="1495.00" y1="1457.00" x2="1495.00" y2="1462.10" stroke-width="7.0" stroke-linecap="butt"/>
<line x1="1464.60" y1="1457.00" x2="1525.40" y2="1457.00" stroke-width="7.4" stroke-linecap="round"/>
<path d="M1437.5 1680.0 V1462.1 H1552.5 V1680.0" fill="#858585" stroke-width="7.2" stroke-linejoin="miter"/>
<line x1="1678.50" y1="1480.20" x2="1678.50" y2="1485.20" stroke-width="7.0" stroke-linecap="butt"/>
<line x1="1648.10" y1="1480.20" x2="1708.90" y2="1480.20" stroke-width="7.4" stroke-linecap="round"/>
<path d="M1621.0 1680.0 V1485.2 H1736.0 V1680.0" fill="#111111" stroke-width="7.2" stroke-linejoin="miter"/>
<line x1="1036.20" y1="1188.90" x2="1036.20" y2="1682.40" stroke-width="4.9" stroke-linecap="butt"/>
<line x1="1027.80" y1="1680.00" x2="1770.00" y2="1680.00" stroke-width="4.9" stroke-linecap="butt"/>
<line x1="1027.80" y1="1517.07" x2="1036.20" y2="1517.07" stroke-width="4.7" stroke-linecap="butt"/>
<line x1="1027.80" y1="1354.13" x2="1036.20" y2="1354.13" stroke-width="4.7" stroke-linecap="butt"/>
<line x1="1027.80" y1="1191.20" x2="1036.20" y2="1191.20" stroke-width="4.7" stroke-linecap="butt"/>
<line x1="1127.80" y1="1680.00" x2="1127.80" y2="1688.40" stroke-width="4.8" stroke-linecap="butt"/>
<line x1="1311.30" y1="1680.00" x2="1311.30" y2="1688.40" stroke-width="4.8" stroke-linecap="butt"/>
<line x1="1494.80" y1="1680.00" x2="1494.80" y2="1688.40" stroke-width="4.8" stroke-linecap="butt"/>
<line x1="1678.30" y1="1680.00" x2="1678.30" y2="1688.40" stroke-width="4.8" stroke-linecap="butt"/>
<path d="M1127.6 1234.0 V1208.7 H1311.5 V1234.0" stroke-width="2.4" stroke-linecap="round"/>
<path d="M1311.1 1294.6 V1258.7 H1678.5 V1294.6" stroke-width="2.4" stroke-linecap="round"/>
<path d="M1311.1 1352.5 V1327.0 H1495.0 V1352.5" stroke-width="2.4" stroke-linecap="round"/>
</g>
<g fill="#111111" stroke="#111111" stroke-width="0.5" font-family="'Liberation Sans', sans-serif">
<text transform="translate(1018.40 1701.00) scale(1 1.02)" font-size="48.5" font-weight="bold" text-anchor="end">0.0</text>
<text transform="translate(1018.40 1538.07) scale(1 1.02)" font-size="48.5" font-weight="bold" text-anchor="end">0.1</text>
<text transform="translate(1018.40 1375.13) scale(1 1.02)" font-size="48.5" font-weight="bold" text-anchor="end">0.2</text>
<text transform="translate(1018.40 1212.20) scale(1 1.02)" font-size="48.5" font-weight="bold" text-anchor="end">0.3</text>
<text transform="translate(1221.15 1201.40) scale(1 1.065)" font-size="51.6" font-weight="bold" text-anchor="middle" font-family="'DejaVu Sans', 'Liberation Sans', sans-serif" stroke="#111111" stroke-width="3" stroke-linejoin="miter" letter-spacing="2.8">***</text>
<text transform="translate(1496.40 1251.40) scale(1 1.065)" font-size="51.6" font-weight="bold" text-anchor="middle" font-family="'DejaVu Sans', 'Liberation Sans', sans-serif" stroke="#111111" stroke-width="3" stroke-linejoin="miter" letter-spacing="2.8">***</text>
<text transform="translate(1404.65 1319.70) scale(1 1.065)" font-size="51.6" font-weight="bold" text-anchor="middle" font-family="'DejaVu Sans', 'Liberation Sans', sans-serif" stroke="#111111" stroke-width="3" stroke-linejoin="miter" letter-spacing="2.8">***</text>
</g>
<g fill="#111111" stroke="#111111" stroke-width="0.5" font-family="'Liberation Sans', sans-serif">
<text transform="translate(1124.10 1744.20) scale(1 1.06)" font-size="46.7" font-weight="bold" text-anchor="middle">0</text>
<text transform="translate(1308.60 1744.20) scale(1 1.06)" font-size="46.7" font-weight="bold" text-anchor="middle">1</text>
<text transform="translate(1496.50 1744.20) scale(1 1.06)" font-size="46.7" font-weight="bold" text-anchor="middle">100</text>
<text transform="translate(1681.80 1744.20) scale(1 1.06)" font-size="46.7" font-weight="bold" text-anchor="middle">10000</text>
<text transform="translate(1309.70 1793.20) scale(1 1.04)" font-size="47.4" font-weight="bold" text-anchor="start">nmol/L</text>
</g>
</svg>
</body>
</html>
